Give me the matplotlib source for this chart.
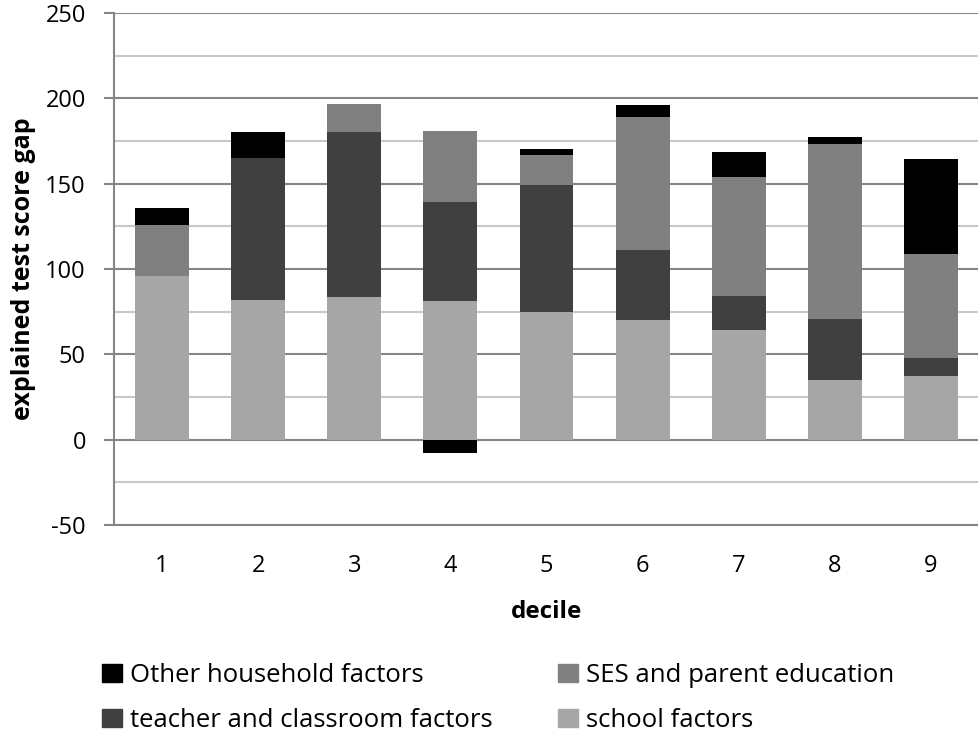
import numpy as np
import matplotlib.pyplot as plt
from matplotlib.patches import Patch

deciles = ['1', '2', '3', '4', '5', '6', '7', '8', '9']
school = [96, 82, 83.5, 81, 75, 70, 64.5, 35, 37.5]
teacher = [0, 83, 97, 58, 74, 41, 19.5, 35.5, 10.5]
ses = [30, 0, 16, 42, 18, 78, 70, 102.5, 61]
other = [10, 15.5, 0, -8, 3.5, 7, 14.5, 4.5, 55.5]

series = [
    ('school factors', school, '#a6a6a6'),
    ('teacher and classroom factors', teacher, '#404040'),
    ('SES and parent education', ses, '#808080'),
    ('Other household factors', other, '#000000'),
]

plt.rcParams['font.family'] = ['Open Sans', 'DejaVu Sans']
plt.rcParams['axes.unicode_minus'] = False

fig = plt.figure(figsize=(9.79, 7.35), dpi=100)
ax = fig.add_axes([0.1164, 0.2857, 0.8836, 0.6966])

x = np.arange(len(deciles))
pos_base = np.zeros(len(deciles))
neg_base = np.zeros(len(deciles))
for name, vals, col in series:
    v = np.array(vals, dtype=float)
    base = np.where(v >= 0, pos_base, neg_base)
    ax.bar(x, v, 0.56, bottom=base, color=col, zorder=3)
    pos_base += np.where(v > 0, v, 0)
    neg_base += np.where(v < 0, v, 0)

ax.set_xlim(-0.5, len(deciles) - 0.5)
ax.set_ylim(-50, 250)
ax.set_yticks(np.arange(-50, 251, 50))
ax.set_yticks(np.arange(-25, 250, 50), minor=True)
ax.grid(axis='y', which='major', color='#868686', linewidth=1.5, zorder=0)
ax.grid(axis='y', which='minor', color='#c8c8c8', linewidth=1.5, zorder=0)
ax.set_xticks(x)
ax.set_xticklabels(deciles)
ax.tick_params(axis='x', length=0, pad=21, labelsize=17)
ax.tick_params(axis='y', which='major', length=7.2, width=1.5, color='#868686',
               labelsize=17, pad=13)
ax.tick_params(axis='y', which='minor', length=0)

for s in ['top', 'right']:
    ax.spines[s].set_visible(False)
ax.spines['left'].set_color('#868686')
ax.spines['left'].set_linewidth(1.5)
ax.spines['bottom'].set_color('#868686')
ax.spines['bottom'].set_linewidth(1.5)

ax.set_xlabel('decile', fontsize=17.5, fontweight='bold', labelpad=16)
ax.set_ylabel('explained test score gap', fontsize=18, fontweight='bold', labelpad=7)

handles = [Patch(color=c, label=n) for n, _, c in
           [series[3], series[1], series[2], series[0]]]
fig.legend(handles=handles, ncol=2, loc='upper left', bbox_to_anchor=(0.104, 0.098),
           frameon=False, fontsize=18.5, handlelength=0.78, handleheight=0.66,
           handletextpad=0.32, columnspacing=2.53, labelspacing=0.78, borderpad=0,
           borderaxespad=0)

fig.savefig('out.png', dpi=100)
